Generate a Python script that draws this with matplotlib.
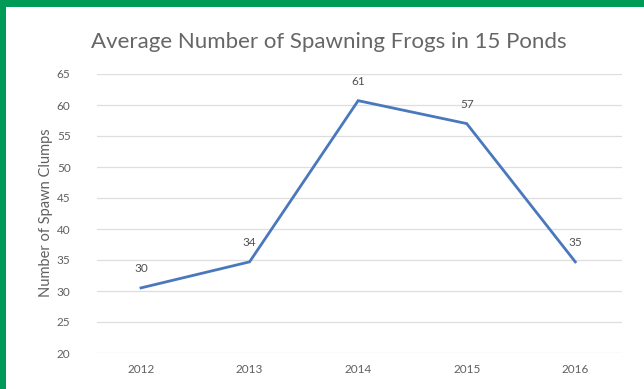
import matplotlib
matplotlib.use("Agg")
import matplotlib.pyplot as plt
from matplotlib.patches import Rectangle

# chart data
years = ["2012", "2013", "2014", "2015", "2016"]
clumps = [30.5, 34.7, 60.7, 57.0, 34.7]
point_labels = ["30", "34", "61", "57", "35"]
y_ticks = [20, 25, 30, 35, 40, 45, 50, 55, 60, 65]

plt.rcParams["font.family"] = ["Lato", "DejaVu Sans"]

fig = plt.figure(figsize=(6.44, 3.89), dpi=100)
fig.patch.set_facecolor("white")

# green frame on top and left
green = "#009a57"
fig.patches.append(Rectangle((0, 1 - 7 / 389), 1, 7 / 389, transform=fig.transFigure,
                             facecolor=green, edgecolor="none", zorder=5))
fig.patches.append(Rectangle((0, 0), 6 / 644, 1, transform=fig.transFigure,
                             facecolor=green, edgecolor="none", zorder=5))

ax = fig.add_axes([97 / 644, 1 - 353 / 389, 525 / 644, 279 / 389])
x = list(range(len(years)))
ax.plot(x, clumps, color="#4a78bd", lw=2.0, solid_joinstyle="miter", zorder=3)

for xi, yi, lab in zip(x, clumps, point_labels):
    ax.annotate(lab, (xi, yi), xytext=(0, 10), textcoords="offset points",
                ha="center", va="bottom", fontsize=8.5, color="#505050")

ax.set_ylim(20, 65)
ax.set_xlim(-0.405, 4.43)
ax.set_yticks(y_ticks)
ax.set_xticks(x)
ax.set_xticklabels(years)
ax.grid(axis="y", color="#dedede", lw=0.9)
ax.set_axisbelow(True)
for s in ax.spines.values():
    s.set_visible(False)
ax.tick_params(length=0, labelsize=8.5, colors="#606060")
ax.tick_params(axis="y", pad=19)
ax.tick_params(axis="x", pad=8)

fig.text(46 / 644, 1 - 213 / 389, "Number of Spawn Clumps", rotation=90,
         ha="center", va="center", fontsize=10.5, color="#606060")
fig.text(329 / 644, 1 - 42 / 389, "Average Number of Spawning Frogs in 15 Ponds",
         ha="center", va="center", fontsize=16, color="#666666")

fig.savefig("out.png", dpi=100)
